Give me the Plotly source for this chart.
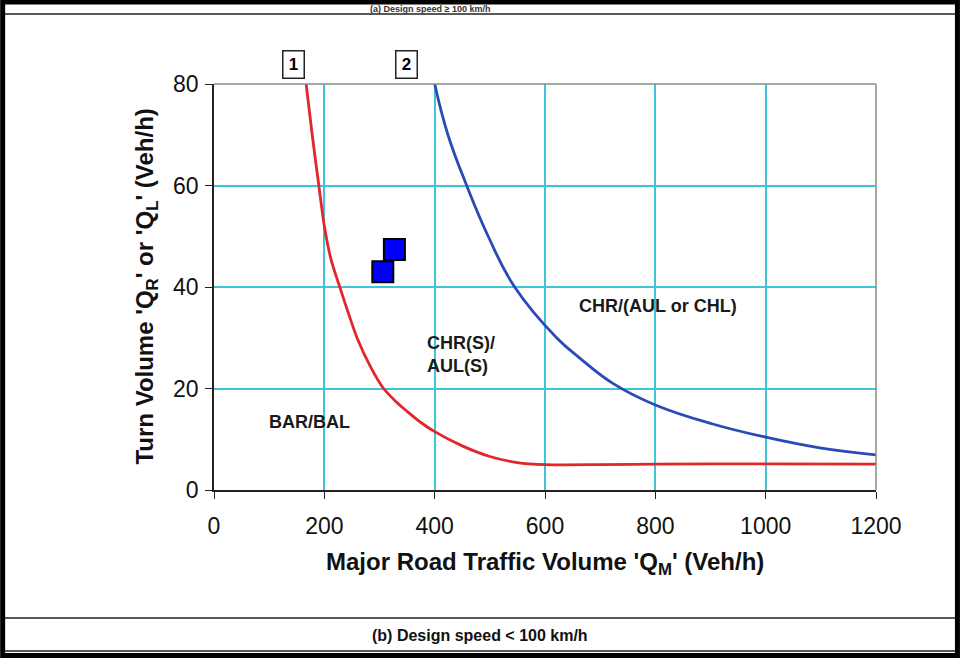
import plotly.graph_objects as go

# ---- data ----
red_x = [167, 178, 190, 200, 212, 228, 260, 285, 306, 330, 350, 375, 400, 450, 500, 550, 600, 700, 800, 1000, 1200]
red_y = [80, 70, 60, 52, 45.5, 40, 29.8, 24, 20.2, 17.4, 15.5, 13.3, 11.5, 8.7, 6.6, 5.4, 5.0, 5.0, 5.1, 5.15, 5.1]

blue_x = [400, 424, 458, 497, 545, 621, 663, 723, 800, 904, 1000, 1098, 1200]
blue_y = [80, 70, 60, 50, 40, 30, 26, 21, 16.75, 13, 10.4, 8.3, 6.9]

site_x = [306, 327]
site_y = [43.0, 47.4]

x_ticks = [0, 200, 400, 600, 800, 1000, 1200]
y_ticks = [0, 20, 40, 60, 80]

region_labels = ["BAR/BAL", "CHR(S)/<br>AUL(S)", "CHR/(AUL or CHL)"]
region_x = [172.7, 382.5, 805.6]
region_y = [13.4, 26.7, 36.3]
region_anchor = ["center", "left", "center"]

curve_tags = ["1", "2"]
curve_tag_x = [143.8, 349.4]

W, H = 960, 658
L, R, T, B = 213.5, 876, 84, 490


def px(x):
    return (x - L) / (R - L)


def py(y):
    return (B - y) / (B - T)


FONT = "Liberation Sans, Arial, sans-serif"
GRID = "#3EC6D8"

fig = go.Figure()

fig.add_trace(go.Scatter(x=red_x, y=red_y, mode="lines",
                         line=dict(color="#E3262B", width=2.8, shape="spline", smoothing=0.8),
                         hoverinfo="skip"))
fig.add_trace(go.Scatter(x=blue_x, y=blue_y, mode="lines",
                         line=dict(color="#2A4BB5", width=2.8, shape="spline", smoothing=1.2),
                         hoverinfo="skip"))
fig.add_trace(go.Scatter(x=site_x, y=site_y, mode="markers",
                         marker=dict(symbol="square", size=21, color="#0000FF",
                                     line=dict(color="black", width=2)),
                         hoverinfo="skip"))

annotations = []
for t, x, y, a in zip(region_labels, region_x, region_y, region_anchor):
    annotations.append(dict(x=x, y=y, xref="x", yref="y", text="<b>" + t + "</b>",
                            showarrow=False, align="left", xanchor=a, yanchor="middle",
                            font=dict(family=FONT, size=18, color="#1a1a1a")))
for t, x in zip(curve_tags, curve_tag_x):
    annotations.append(dict(x=x, y=py(64.5), xref="x", yref="paper", text="<b>" + t + "</b>",
                            showarrow=False, bordercolor="#222222", borderwidth=1.5,
                            borderpad=2, bgcolor="white", width=16, height=22,
                            xanchor="center", yanchor="middle",
                            font=dict(family=FONT, size=17, color="black")))
# axis titles
annotations.append(dict(x=px(545), y=py(563), xref="paper", yref="paper",
                        xanchor="center", yanchor="middle",
                        text="<b>Major Road Traffic Volume 'Q<sub>M</sub>' (Veh/h)</b>",
                        showarrow=False, font=dict(family=FONT, size=24, color="#111111")))
annotations.append(dict(x=px(145), y=py(287), xref="paper", yref="paper", textangle=-90,
                        xanchor="center", yanchor="middle",
                        text="<b>Turn Volume 'Q<sub>R</sub>' or 'Q<sub>L</sub>' (Veh/h)</b>",
                        showarrow=False, font=dict(family=FONT, size=24, color="#111111")))
# caption
annotations.append(dict(x=px(480), y=py(635), xref="paper", yref="paper",
                        xanchor="center", yanchor="middle",
                        text="<b>(b) Design speed < 100 km/h</b>",
                        showarrow=False, font=dict(family=FONT, size=16, color="#111111")))
# partly visible title of the panel above
annotations.append(dict(x=px(430), y=py(8.5), xref="paper", yref="paper",
                        xanchor="center", yanchor="middle",
                        text="<b>(a) Design speed ≥ 100 km/h</b>",
                        showarrow=False, font=dict(family=FONT, size=9, color="#333333")))

shapes = [
    # plot frame top/right in grey
    dict(type="line", xref="paper", yref="paper", x0=0, x1=1, y0=1, y1=1,
         line=dict(color="#8a8a8a", width=1.5)),
    dict(type="line", xref="paper", yref="paper", x0=1, x1=1, y0=0, y1=1,
         line=dict(color="#8a8a8a", width=1.5)),
    # separators
    dict(type="line", xref="paper", yref="paper", x0=px(3), x1=px(957), y0=py(14), y1=py(14),
         line=dict(color="#222222", width=1.5)),
    dict(type="line", xref="paper", yref="paper", x0=px(3), x1=px(957), y0=py(618), y1=py(618),
         line=dict(color="#222222", width=1.5)),
    dict(type="line", xref="paper", yref="paper", x0=px(3), x1=px(957), y0=py(651), y1=py(651),
         line=dict(color="#222222", width=1.5)),
    # outer border
    dict(type="rect", xref="paper", yref="paper", x0=px(2), x1=px(957.5), y0=py(2), y1=py(655.5),
         line=dict(color="black", width=5)),
]

fig.update_layout(
    width=W, height=H,
    margin=dict(l=L, r=W - R, t=T, b=H - B),
    paper_bgcolor="white", plot_bgcolor="white",
    showlegend=False,
    annotations=annotations,
    shapes=shapes,
    font=dict(family=FONT, color="#111111"),
)
fig.update_xaxes(range=[0, 1200], tickvals=x_ticks, showgrid=True, gridcolor=GRID, gridwidth=1.5,
                 showline=True, linecolor="#222222", linewidth=1.5, ticks="outside", ticklen=7,
                 tickcolor="#222222", tickfont=dict(size=23, family=FONT), zeroline=False,
                 ticklabelstandoff=8)
fig.update_yaxes(range=[0, 80], tickvals=y_ticks, showgrid=True, gridcolor=GRID, gridwidth=1.5,
                 showline=True, linecolor="#222222", linewidth=1.5, ticks="outside", ticklen=7,
                 tickcolor="#222222", tickfont=dict(size=23, family=FONT), zeroline=False,
                 ticklabelstandoff=2)

fig.write_html("out.html", config={"displayModeBar": False},
               post_script="document.body.style.margin='0';document.body.style.overflow='hidden';")
